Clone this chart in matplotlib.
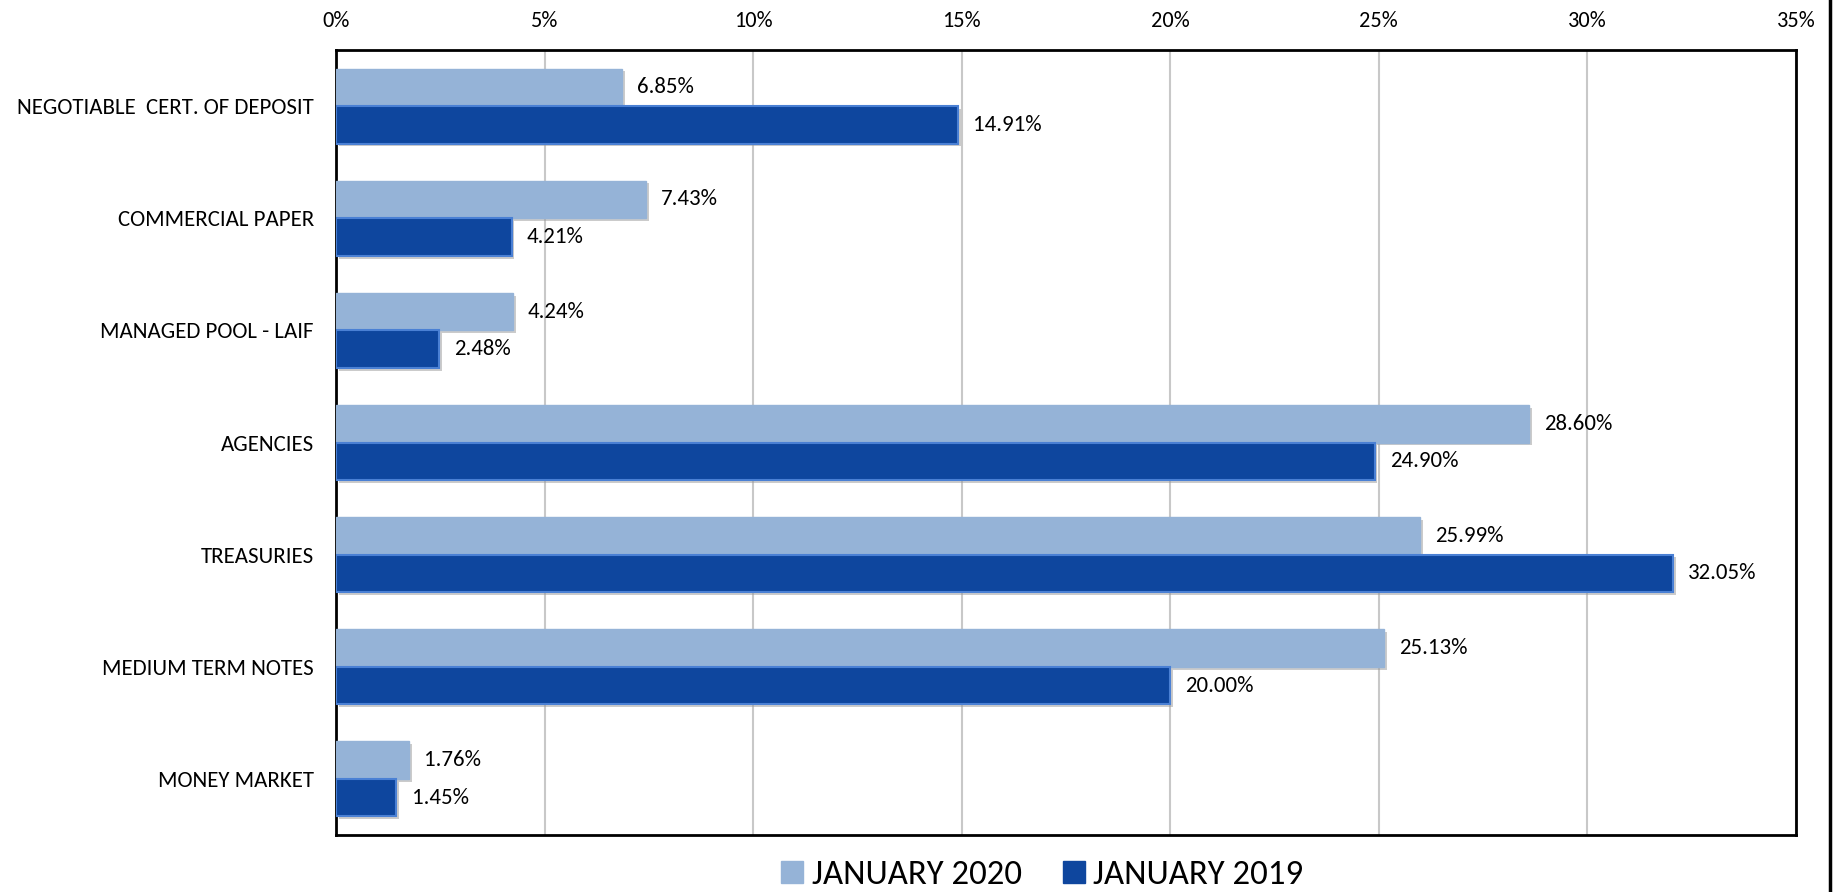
import numpy as np
import matplotlib.pyplot as plt
from matplotlib.lines import Line2D
from matplotlib import patheffects as pe

categories = ['NEGOTIABLE  CERT. OF DEPOSIT', 'COMMERCIAL PAPER', 'MANAGED POOL - LAIF',
              'AGENCIES', 'TREASURIES', 'MEDIUM TERM NOTES', 'MONEY MARKET']
jan_2020 = [6.85, 7.43, 4.24, 28.60, 25.99, 25.13, 1.76]
jan_2019 = [14.91, 4.21, 2.48, 24.90, 32.05, 20.00, 1.45]
series_names = ['JANUARY 2020', 'JANUARY 2019']
x_ticks = [0, 5, 10, 15, 20, 25, 30, 35]

light = '#95b3d7'
dark = '#0e469e'

plt.rcParams['font.family'] = ['Carlito', 'Lato', 'DejaVu Sans']

fig = plt.figure(figsize=(18.37, 8.92), dpi=100)
ax = fig.add_axes([336 / 1837, 1 - 835 / 892, 1460 / 1837, 785 / 892])

y = np.arange(len(categories))
h = 0.335
shadow = [pe.SimplePatchShadow(offset=(2, -2), shadow_rgbFace='#999999', alpha=0.5), pe.Normal()]

b1 = ax.barh(y - h / 2, jan_2020, height=h, color=light, edgecolor=light, linewidth=1, zorder=3)
b2 = ax.barh(y + h / 2, jan_2019, height=h, color=dark, edgecolor='#4a80d4', linewidth=1.5, zorder=3)
for b in list(b1) + list(b2):
    b.set_path_effects(shadow)

fs = 16.5
for yy, v in zip(y - h / 2, jan_2020):
    ax.text(v + 0.36, yy, f'{v:.2f}%', va='center', ha='left', fontsize=fs, zorder=4)
for yy, v in zip(y + h / 2, jan_2019):
    ax.text(v + 0.36, yy, f'{v:.2f}%', va='center', ha='left', fontsize=fs, zorder=4)

ax.set_xlim(0, 35)
ax.set_ylim(len(categories) - 0.5, -0.5)
ax.set_xticks(x_ticks)
ax.set_xticklabels([f'{t}%' for t in x_ticks], fontsize=16)
ax.xaxis.tick_top()
ax.tick_params(axis='x', length=0, pad=14)
ax.set_yticks(y)
ax.set_yticklabels(categories, fontsize=fs)
ax.tick_params(axis='y', length=0, pad=16)
ax.grid(axis='x', color='#c8c8c8', linewidth=1.5, zorder=0)
for s in ax.spines.values():
    s.set_linewidth(2)
    s.set_color('black')

handles = [Line2D([], [], marker='s', linestyle='none', markersize=16, color=c) for c in (light, dark)]
fig.legend(handles, series_names, loc='center', bbox_to_anchor=(1039 / 1837, 1 - 875 / 892),
           ncol=2, frameon=False, fontsize=25, handletextpad=0.05, columnspacing=1.0, handlelength=1)

# right border of the chart frame
fig.add_artist(Line2D([1830 / 1837, 1830 / 1837], [0, 1], color='black', linewidth=2.5,
                      transform=fig.transFigure))

fig.savefig('out.png', dpi=100)
